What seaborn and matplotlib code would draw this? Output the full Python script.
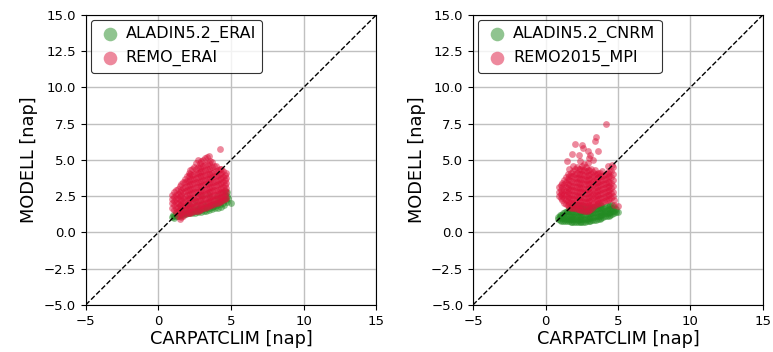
import matplotlib
matplotlib.use("Agg")
import matplotlib.pyplot as plt
import seaborn as sns
import pandas as pd

# -----------------------------------
# Data (CARPATCLIM vs model, days)
# -----------------------------------
aladin_erai_x = [0.9, 1.0, 1.1, 1.2, 1.3, 1.4, 1.5, 1.6, 1.7, 1.8, 1.9, 2.0, 2.1, 2.2, 2.3,
                 2.4, 2.5, 2.6, 2.7, 2.8, 2.9, 3.0, 3.1, 3.2, 3.3, 3.4, 3.5, 3.6, 3.7, 3.8,
                 3.9, 4.0, 4.1, 4.2, 4.3, 4.4, 4.5, 4.6, 4.7, 4.75, 4.8, 5.0, 4.6, 4.4, 2.0,
                 3.0, 1.5, 2.5, 3.5, 4.0, 4.55, 4.25, 3.85, 3.25, 2.75,
                 1.05, 1.25, 1.45, 1.65, 1.85, 2.05, 2.25, 2.45, 2.65, 2.85, 3.05, 3.25,
                 3.45, 3.65, 3.85, 4.05, 4.25, 4.45, 4.65, 4.7]
aladin_erai_y = [1.05, 1.2, 1.0, 1.35, 1.1, 1.5, 1.15, 1.4, 1.2, 1.6, 1.25, 1.5, 1.3, 1.8, 1.3,
                 1.6, 1.35, 1.9, 1.4, 1.7, 1.4, 2.0, 1.45, 1.8, 1.5, 2.1, 1.55, 1.9, 1.6, 2.2,
                 1.65, 2.0, 1.7, 2.4, 1.75, 2.2, 1.85, 2.6, 2.1, 2.8, 2.4, 2.05, 2.85, 2.7, 2.0,
                 2.5, 1.8, 2.2, 2.6, 2.5, 2.3, 2.1, 1.95, 1.75, 1.6,
                 1.1, 1.15, 1.2, 1.25, 1.3, 1.35, 1.4, 1.45, 1.5, 1.55, 1.6, 1.65,
                 1.7, 1.75, 1.8, 1.85, 1.95, 2.0, 2.2, 2.5]

remo_erai_x = ([0.95] * 4 + [1.2] * 6 + [1.45] * 8 + [1.7] * 8 + [1.95] * 9 + [2.2] * 10 +
               [2.45] * 10 + [2.7] * 11 + [2.95] * 11 + [3.2] * 11 + [3.45] * 11 +
               [3.7] * 10 + [3.95] * 9 + [4.2] * 9 + [4.45] * 7 + [4.65] * 6 +
               [1.08] * 5 + [1.33] * 7 + [1.58] * 8 + [1.83] * 9 + [2.08] * 10 + [2.33] * 10 +
               [2.58] * 11 + [2.83] * 11 + [3.08] * 11 + [3.33] * 11 + [3.58] * 10 +
               [3.83] * 9 + [4.08] * 8 + [4.33] * 8 + [4.55] * 6)
remo_erai_y = [1.7, 2.0, 2.3, 2.6,
               1.4, 1.7, 2.0, 2.3, 2.6, 2.95,
               0.95, 1.3, 1.6, 1.9, 2.2, 2.5, 2.8, 3.2,
               1.15, 1.45, 1.8, 2.1, 2.4, 2.75, 3.05, 3.5,
               1.3, 1.6, 1.9, 2.25, 2.55, 2.9, 3.2, 3.55, 3.9,
               1.35, 1.7, 2.0, 2.35, 2.65, 3.0, 3.3, 3.65, 4.0, 4.3,
               1.45, 1.75, 2.1, 2.4, 2.75, 3.05, 3.4, 3.7, 4.05, 4.5,
               1.5, 1.85, 2.15, 2.5, 2.8, 3.15, 3.45, 3.8, 4.1, 4.5, 5.0,
               1.6, 1.9, 2.25, 2.55, 2.9, 3.2, 3.55, 3.85, 4.2, 4.6, 4.9,
               1.7, 2.0, 2.3, 2.65, 2.95, 3.3, 3.6, 3.95, 4.3, 4.65, 5.1,
               1.8, 2.1, 2.4, 2.75, 3.05, 3.4, 3.7, 4.0, 4.4, 4.8, 5.25,
               1.9, 2.2, 2.5, 2.85, 3.15, 3.5, 3.8, 4.1, 4.5, 4.85,
               2.0, 2.3, 2.6, 2.9, 3.25, 3.55, 3.9, 4.2, 4.6,
               2.1, 2.4, 2.7, 3.0, 3.35, 3.65, 4.0, 4.4, 5.75,
               2.2, 2.5, 2.8, 3.1, 3.45, 3.8, 4.2,
               2.4, 2.75, 3.05, 3.4, 3.75, 4.1,
               1.55, 1.85, 2.15, 2.45, 2.75,
               1.15, 1.45, 1.75, 2.05, 2.35, 2.65, 3.0,
               1.05, 1.35, 1.65, 1.95, 2.25, 2.6, 2.9, 3.3,
               1.25, 1.55, 1.9, 2.2, 2.5, 2.85, 3.15, 3.45, 3.7,
               1.35, 1.65, 1.95, 2.3, 2.6, 2.95, 3.25, 3.55, 3.85, 4.1,
               1.4, 1.75, 2.05, 2.4, 2.7, 3.0, 3.35, 3.65, 3.95, 4.35,
               1.5, 1.8, 2.15, 2.45, 2.8, 3.1, 3.45, 3.75, 4.1, 4.4, 4.75,
               1.55, 1.9, 2.2, 2.55, 2.85, 3.2, 3.5, 3.85, 4.15, 4.45, 4.75,
               1.65, 1.95, 2.3, 2.6, 2.95, 3.25, 3.6, 3.9, 4.25, 4.55, 5.0,
               1.75, 2.05, 2.35, 2.7, 3.0, 3.35, 3.65, 4.0, 4.35, 4.7, 5.2,
               1.85, 2.15, 2.45, 2.8, 3.1, 3.45, 3.75, 4.05, 4.45, 4.9,
               1.95, 2.25, 2.55, 2.9, 3.2, 3.5, 3.85, 4.15, 4.55,
               2.05, 2.35, 2.65, 2.95, 3.3, 3.6, 3.95, 4.3,
               2.15, 2.45, 2.75, 3.05, 3.4, 3.75, 4.1, 4.35,
               2.3, 2.6, 2.95, 3.25, 3.6, 3.95]

aladin_cnrm_x = ([0.85] * 2 + [1.1] * 3 + [1.35] * 4 + [1.6] * 5 + [1.85] * 6 + [2.1] * 6 +
                 [2.35] * 6 + [2.6] * 6 + [2.85] * 5 + [3.1] * 5 + [3.35] * 5 + [3.6] * 5 +
                 [3.85] * 5 + [4.1] * 4 + [4.35] * 4 + [4.6] * 4 + [4.85] * 2 + [5.0] +
                 [0.98] * 3 + [1.23] * 4 + [1.48] * 5 + [1.73] * 6 + [1.98] * 6 + [2.23] * 6 +
                 [2.48] * 5 + [2.73] * 5 + [2.98] * 5 + [3.23] * 5 + [3.48] * 5 + [3.73] * 5 +
                 [3.98] * 4 + [4.23] * 4 + [4.48] * 4 + [4.73] * 3)
aladin_cnrm_y = [0.9, 1.05,
                 0.8, 1.0, 1.2,
                 0.75, 0.95, 1.2, 1.4,
                 0.75, 0.95, 1.2, 1.45, 1.6,
                 0.7, 0.9, 1.15, 1.4, 1.65, 1.85,
                 0.68, 0.9, 1.15, 1.4, 1.6, 1.9,
                 0.7, 0.9, 1.15, 1.4, 1.65, 1.8,
                 0.72, 0.95, 1.2, 1.45, 1.7, 1.85,
                 0.75, 0.95, 1.2, 1.45, 1.7,
                 0.8, 1.0, 1.25, 1.5, 1.75,
                 0.85, 1.05, 1.3, 1.55, 1.75,
                 0.9, 1.1, 1.35, 1.6, 1.8,
                 1.0, 1.2, 1.4, 1.65, 1.85,
                 1.1, 1.3, 1.5, 1.75,
                 1.15, 1.35, 1.6, 1.8,
                 1.25, 1.45, 1.65, 1.85,
                 1.4, 1.6,
                 1.4,
                 0.85, 1.05, 1.2,
                 0.78, 0.98, 1.2, 1.35,
                 0.75, 0.95, 1.15, 1.35, 1.5,
                 0.72, 0.92, 1.15, 1.4, 1.6, 1.75,
                 0.7, 0.9, 1.1, 1.35, 1.6, 1.8,
                 0.68, 0.88, 1.1, 1.35, 1.6, 1.85,
                 0.7, 0.92, 1.15, 1.4, 1.65,
                 0.72, 0.95, 1.2, 1.45, 1.7,
                 0.78, 1.0, 1.25, 1.5, 1.7,
                 0.82, 1.05, 1.3, 1.55, 1.75,
                 0.88, 1.1, 1.35, 1.6, 1.8,
                 0.95, 1.15, 1.4, 1.65, 1.85,
                 1.05, 1.25, 1.45, 1.7,
                 1.1, 1.3, 1.55, 1.8,
                 1.2, 1.4, 1.6, 1.85,
                 1.3, 1.5, 1.75]

remo_mpi_x = ([0.95] * 3 + [1.15] * 5 + [1.4] * 7 + [1.65] * 9 + [1.9] * 10 + [2.15] * 10 +
              [2.4] * 11 + [2.65] * 11 + [2.9] * 11 + [3.15] * 10 + [3.4] * 9 + [3.65] * 8 +
              [3.9] * 8 + [4.15] * 7 + [4.4] * 7 + [4.65] * 6 +
              [4.2, 3.5, 3.4, 2.0, 2.5, 2.6, 1.8, 2.9, 3.1, 3.6, 2.3, 1.5, 4.6, 4.3, 5.0,
               4.7, 4.75, 3.0, 3.3] +
              [1.05] * 4 + [1.28] * 6 + [1.53] * 8 + [1.78] * 9 + [2.03] * 10 + [2.28] * 10 +
              [2.53] * 11 + [2.78] * 11 + [3.03] * 10 + [3.28] * 9 + [3.53] * 8 + [3.78] * 8 +
              [4.03] * 7 + [4.28] * 7 + [4.53] * 6)
remo_mpi_y = [2.5, 2.8, 3.1,
              2.2, 2.5, 2.8, 3.1, 3.4,
              1.95, 2.25, 2.55, 2.85, 3.15, 3.5, 3.8,
              1.75, 2.05, 2.35, 2.65, 2.95, 3.25, 3.6, 3.9, 4.4,
              1.7, 2.0, 2.3, 2.6, 2.9, 3.2, 3.5, 3.85, 4.2, 4.6,
              1.6, 1.9, 2.2, 2.5, 2.8, 3.1, 3.45, 3.75, 4.1, 4.5,
              1.55, 1.85, 2.15, 2.45, 2.75, 3.05, 3.35, 3.7, 4.0, 4.4, 4.9,
              1.5, 1.8, 2.1, 2.4, 2.7, 3.0, 3.3, 3.65, 3.95, 4.3, 4.7,
              1.5, 1.8, 2.1, 2.4, 2.7, 3.0, 3.3, 3.6, 3.95, 4.3, 4.8,
              1.6, 1.9, 2.2, 2.5, 2.8, 3.1, 3.4, 3.7, 4.0, 4.4,
              1.9, 2.2, 2.5, 2.8, 3.1, 3.4, 3.7, 4.0, 4.3,
              2.0, 2.3, 2.6, 2.9, 3.2, 3.5, 3.8, 4.1,
              2.1, 2.4, 2.7, 3.0, 3.3, 3.6, 3.9, 4.2,
              2.2, 2.5, 2.8, 3.1, 3.4, 3.7, 4.0,
              2.3, 2.6, 2.9, 3.2, 3.5, 3.85, 4.2,
              2.5, 2.8, 3.2, 3.6, 4.0, 4.5,
              7.5, 6.6, 6.3, 6.1, 6.05, 5.8, 5.4, 5.6, 5.3, 5.6, 5.3, 4.9, 4.65, 4.6, 1.8,
              1.9, 2.2, 5.1, 5.0,
              2.35, 2.65, 2.95, 3.25,
              2.05, 2.35, 2.65, 2.95, 3.3, 3.6,
              1.85, 2.15, 2.45, 2.75, 3.05, 3.35, 3.7, 4.0,
              1.7, 2.0, 2.3, 2.6, 2.9, 3.2, 3.55, 3.85, 4.1,
              1.65, 1.95, 2.25, 2.55, 2.85, 3.15, 3.45, 3.75, 4.05, 4.4,
              1.6, 1.9, 2.2, 2.5, 2.8, 3.1, 3.4, 3.75, 4.05, 4.35,
              1.55, 1.85, 2.15, 2.45, 2.75, 3.05, 3.4, 3.7, 4.0, 4.3, 4.6,
              1.5, 1.8, 2.1, 2.4, 2.7, 3.0, 3.3, 3.6, 3.9, 4.2, 4.5,
              1.55, 1.85, 2.15, 2.45, 2.75, 3.05, 3.35, 3.65, 3.95, 4.3,
              1.75, 2.05, 2.35, 2.65, 2.95, 3.25, 3.55, 3.85, 4.15,
              1.95, 2.25, 2.55, 2.85, 3.15, 3.45, 3.75, 4.05,
              2.05, 2.35, 2.65, 2.95, 3.25, 3.55, 3.85, 4.1,
              2.15, 2.45, 2.75, 3.05, 3.35, 3.65, 3.95,
              2.25, 2.55, 2.85, 3.15, 3.45, 3.8, 4.1,
              2.4, 2.7, 3.05, 3.4, 3.8, 4.2]

panels = [
    ("ALADIN5.2_ERAI", aladin_erai_x, aladin_erai_y, "REMO_ERAI", remo_erai_x, remo_erai_y),
    ("ALADIN5.2_CNRM", aladin_cnrm_x, aladin_cnrm_y, "REMO2015_MPI", remo_mpi_x, remo_mpi_y),
]

# -----------------------------------
# Figure
# -----------------------------------
fig = plt.figure(figsize=(7.73, 3.52), dpi=100)
axes = [fig.add_axes([0.111, 0.134, 0.376, 0.824]),
        fig.add_axes([0.612, 0.134, 0.375, 0.824])]

for ax, (g_name, gx, gy, r_name, rx, ry) in zip(axes, panels):
    green = pd.DataFrame({"CARPATCLIM": gx, "MODELL": gy})
    red = pd.DataFrame({"CARPATCLIM": rx, "MODELL": ry})

    sns.scatterplot(data=green, x="CARPATCLIM", y="MODELL", ax=ax, color="forestgreen",
                    alpha=0.5, s=24, linewidth=0, label=g_name,
                    legend=False, zorder=3)
    sns.scatterplot(data=red, x="CARPATCLIM", y="MODELL", ax=ax, color="crimson",
                    alpha=0.5, s=24, linewidth=0, label=r_name,
                    legend=False, zorder=4)

    ax.axline((0, 0), slope=1, color="black", linestyle="--", linewidth=1, zorder=5)
    ax.set_xlim(-5, 15)
    ax.set_ylim(-5, 15)
    ax.set_xticks([-5, 0, 5, 10, 15])
    ax.set_yticks([-5.0, -2.5, 0.0, 2.5, 5.0, 7.5, 10.0, 12.5, 15.0])
    ax.set_yticklabels(["\u22125.0", "\u22122.5", "0.0", "2.5", "5.0", "7.5", "10.0", "12.5", "15.0"])
    ax.set_xticklabels(["\u22125", "0", "5", "10", "15"])
    ax.tick_params(labelsize=9.5)
    ax.grid(True, color="#c0c0c0", linewidth=1)
    ax.set_axisbelow(True)
    ax.set_xlabel("CARPATCLIM [nap]", fontsize=12.8, labelpad=2)
    ax.set_ylabel("MODELL [nap]", fontsize=12.8, labelpad=4)

    leg = ax.legend(loc="upper left", fontsize=11.5, markerscale=2.0, edgecolor="black",
                    fancybox=True, borderaxespad=0.3, handletextpad=0.2, handlelength=1.6)
    leg.get_frame().set_linewidth(0.8)

plt.savefig("out.png", dpi=100)
